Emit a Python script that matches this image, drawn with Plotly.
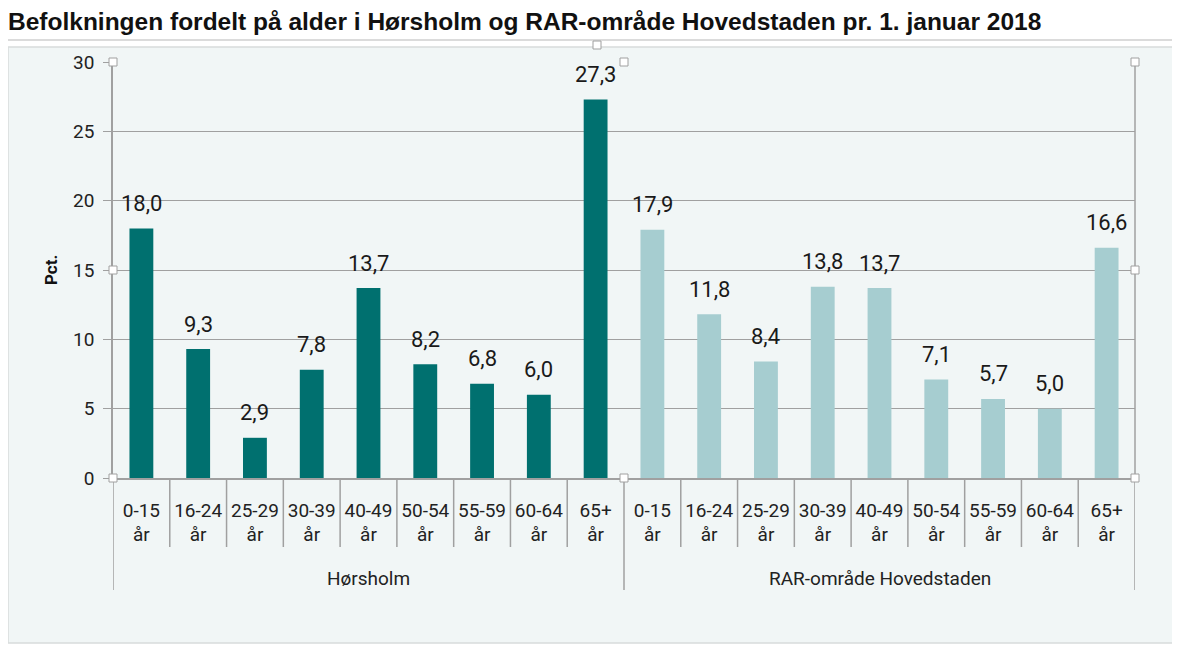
import plotly.graph_objects as go

title_text = "Befolkningen fordelt på alder i Hørsholm og RAR-område Hovedstaden pr. 1. januar 2018"
age_groups = ["0-15<br>år", "16-24<br>år", "25-29<br>år", "30-39<br>år", "40-49<br>år",
              "50-54<br>år", "55-59<br>år", "60-64<br>år", "65+<br>år"]
areas = ["Hørsholm", "RAR-område Hovedstaden"]
horsholm = [18.0, 9.3, 2.9, 7.8, 13.7, 8.2, 6.8, 6.0, 27.3]
rar = [17.9, 11.8, 8.4, 13.8, 13.7, 7.1, 5.7, 5.0, 16.6]
colors = ["#00706f", "#a6cdd0"]
y_ticks = [0, 5, 10, 15, 20, 25, 30]

# figure geometry (page body adds an 8px offset)
W, H = 1172, 637
L, R, T, B = 105, 1127, 54, 470
GRID = "#a0a0a0"
FONT = "Roboto"

def px(x):
    return (x - L) / (R - L)

def py(y):
    return (B - y) / (B - T)

fig = go.Figure()
annotations = []
all_keys = []
tick_text = []
for area, vals, col in zip(areas, [horsholm, rar], colors):
    keys = [area + " " + g for g in age_groups]
    all_keys += keys
    tick_text += age_groups
    fig.add_trace(go.Bar(
        x=keys, y=vals,
        marker=dict(color=col, line=dict(width=0)),
        showlegend=False, hoverinfo="y",
    ))
    for k, v in zip(keys, vals):
        annotations.append(dict(
            x=k, y=v, xref="x", yref="y", text=f"{v:.1f}".replace(".", ","),
            showarrow=False, yanchor="middle", yshift=25,
            font=dict(family=FONT, size=22, color="#1a1a1a"),
        ))

n_per = len(age_groups)
n_all = len(all_keys)
cat_w = (R - L) / n_all

# group labels under the axis
for i, area in enumerate(areas):
    annotations.append(dict(
        x=i * n_per + (n_per - 1) / 2, y=py(570), xref="x", yref="paper", text=area,
        showarrow=False, yanchor="middle",
        font=dict(family=FONT, size=19, color="#222"),
    ))
# y-axis title
annotations.append(dict(
    x=px(43), y=py(262), xref="paper", yref="paper", text="<b>Pct.</b>",
    textangle=-90, showarrow=False, xanchor="center", yanchor="middle",
    font=dict(family=FONT, size=17, color="#111"),
))

shapes = [
    dict(type="rect", xref="paper", yref="paper", x0=px(-4), x1=px(1175), y0=py(32), y1=py(-8),
         line=dict(color="#d0d0d0", width=1.5), fillcolor="white", layer="below"),
    dict(type="rect", xref="paper", yref="paper", x0=px(0), x1=px(1171), y0=py(635), y1=py(39),
         line=dict(color="#d8dcdc", width=1.5), fillcolor="#f1f6f6", layer="below"),
    dict(type="line", xref="paper", yref="paper", x0=1, x1=1, y0=0, y1=1,
         line=dict(color=GRID, width=1.5)),
]
# boundary ticks between categories and group dividers
for b in range(n_all + 1):
    is_div = b % n_per == 0
    bottom = 582 if is_div else 539
    shapes.append(dict(type="line", xref="x", yref="paper", x0=b - 0.5, x1=b - 0.5,
                       y0=0, y1=py(bottom), line=dict(color=GRID, width=1.5)))
mid = L + n_per * cat_w
handles = [(L, T), (mid, T), (R, T), (L, (T + B) / 2),
           (R, (T + B) / 2), (L, B), (mid, B), (R, B), (589, 37)]
for hx, hy in handles:
    shapes.append(dict(type="rect", xref="paper", yref="paper",
                       x0=px(hx - 4), x1=px(hx + 4), y0=py(hy + 4), y1=py(hy - 4),
                       line=dict(color="#a0a0a0", width=1), fillcolor="white"))

fig.update_layout(
    width=W, height=H,
    margin=dict(l=L, r=W - R, t=T, b=H - B, autoexpand=False),
    paper_bgcolor="white",
    plot_bgcolor="rgba(0,0,0,0)",
    barmode="overlay",
    bargap=0.58,
    title=dict(text="<b>" + title_text + "</b>", x=0, xref="container", xanchor="left",
               y=1 - 13 / H, yref="container", yanchor="middle",
               font=dict(family="Liberation Sans", size=24.5, color="#111")),
    font=dict(family=FONT, color="#222"),
    shapes=shapes,
    annotations=annotations,
)

fig.update_yaxes(
    range=[0, 30], tickvals=y_ticks, showgrid=True, gridcolor=GRID, gridwidth=1.2,
    showline=True, linecolor=GRID, linewidth=1.5,
    ticks="outside", ticklen=8, tickcolor=GRID, ticklabelstandoff=5,
    tickfont=dict(family=FONT, size=19, color="#222"), zeroline=False, automargin=False,
)
fig.update_xaxes(
    type="category", categoryorder="array", categoryarray=all_keys,
    tickmode="array", tickvals=all_keys, ticktext=tick_text,
    showline=True, linecolor=GRID, linewidth=1.5,
    ticks="outside", ticklen=14, tickcolor="rgba(0,0,0,0)",
    tickfont=dict(family=FONT, size=19, color="#222"), automargin=False,
    range=[-0.5, n_all - 0.5],
)

fig.write_html("out.html")
